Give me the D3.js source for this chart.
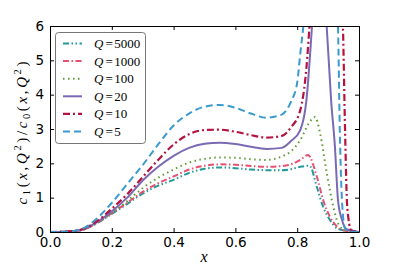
<!DOCTYPE html>
<html lang="en">
  <head>
    <meta charset="utf-8">
    <title>c1/c0 ratio</title>
    <script src="https://d3js.org/d3.v7.min.js"></script>
    <style>
      body { margin: 0; background: #fff; }
    </style>
  </head>
  <body>
    <svg id="chart" width="399" height="266"></svg>
    <script type="text/javascript">
      // values
      var q5000X = [0, 0.05, 0.1, 0.15, 0.2, 0.25, 0.3, 0.35, 0.4, 0.45, 0.5, 0.55, 0.6, 0.65, 0.7, 0.75, 0.78, 0.81, 0.84, 0.864, 0.884, 0.906, 0.93, 0.96, 1.0];
      var q5000Y = [0, 0.01, 0.05, 0.25, 0.53, 0.82, 1.12, 1.35, 1.52, 1.72, 1.84, 1.88, 1.86, 1.82, 1.8, 1.8, 1.83, 1.9, 1.93, 1.3, 0.73, 0.35, 0.1, 0.03, 0];

      var q1000X = [0, 0.05, 0.1, 0.15, 0.2, 0.25, 0.3, 0.35, 0.4, 0.45, 0.5, 0.55, 0.6, 0.65, 0.7, 0.75, 0.78, 0.81, 0.835, 0.864, 0.884, 0.906, 0.93, 0.96, 1.0];
      var q1000Y = [0, 0.01, 0.05, 0.25, 0.55, 0.85, 1.17, 1.42, 1.62, 1.82, 1.93, 1.97, 1.96, 1.92, 1.9, 1.92, 1.97, 2.1, 2.24, 1.6, 0.93, 0.44, 0.15, 0.03, 0];

      var q100X = [0, 0.05, 0.1, 0.15, 0.2, 0.25, 0.3, 0.35, 0.4, 0.45, 0.5, 0.55, 0.6, 0.65, 0.7, 0.75, 0.78, 0.81, 0.84, 0.858, 0.874, 0.896, 0.917, 0.935, 0.955, 1.0];
      var q100Y = [0, 0.01, 0.05, 0.25, 0.55, 0.9, 1.28, 1.58, 1.82, 2.02, 2.13, 2.17, 2.16, 2.12, 2.1, 2.2, 2.35, 2.68, 3.2, 3.35, 2.88, 1.7, 0.73, 0.2, 0.05, 0];

      var q20X = [0, 0.05, 0.1, 0.15, 0.2, 0.25, 0.3, 0.35, 0.4, 0.45, 0.5, 0.55, 0.6, 0.65, 0.7, 0.75, 0.78, 0.81, 0.83, 0.848, 0.87, 0.88, 0.896, 0.91, 0.922, 0.932, 0.945, 0.96, 1.0];
      var q20Y = [0, 0.01, 0.06, 0.27, 0.6, 1.0, 1.5, 1.9, 2.22, 2.45, 2.57, 2.6, 2.56, 2.48, 2.42, 2.45, 2.65, 2.97, 3.85, 6, 9, 9, 5.9, 3.8, 2.5, 0.93, 0.35, 0.08, 0];

      var q10X = [0, 0.05, 0.1, 0.15, 0.2, 0.25, 0.3, 0.35, 0.4, 0.45, 0.5, 0.55, 0.6, 0.65, 0.7, 0.75, 0.78, 0.81, 0.83, 0.84, 0.87, 0.9, 0.93, 0.948, 0.955, 0.962, 0.975, 1.0];
      var q10Y = [0, 0.01, 0.07, 0.3, 0.68, 1.1, 1.6, 2.1, 2.55, 2.85, 2.97, 2.98, 2.92, 2.82, 2.75, 2.8, 3.05, 3.55, 4.8, 6, 9, 10, 9, 6, 2.9, 0.73, 0.05, 0];

      var q5X = [0, 0.05, 0.1, 0.15, 0.2, 0.25, 0.3, 0.35, 0.4, 0.45, 0.5, 0.55, 0.6, 0.65, 0.7, 0.75, 0.78, 0.8, 0.81, 0.82, 0.84, 0.88, 0.92, 0.932, 0.938, 0.945, 0.955, 0.97, 1.0];
      var q5Y = [0, 0.01, 0.08, 0.38, 0.85, 1.4, 1.95, 2.55, 3.1, 3.45, 3.65, 3.7, 3.62, 3.45, 3.33, 3.42, 3.8, 4.35, 5.2, 6, 8, 10, 8, 6, 2.9, 0.9, 0.1, 0.02, 0];

      var seriesNames = ["5000", "1000", "100", "20", "10", "5"];
      var xTicks = [0, 0.2, 0.4, 0.6, 0.8, 1.0];
      var yTicks = [0, 1, 2, 3, 4, 5, 6];

      var series = [
        {q: "5000", xs: q5000X, ys: q5000Y, color: "#23999a", dash: "6,2.5,1.5,2.5,1.5,2.5", w: 2},
        {q: "1000", xs: q1000X, ys: q1000Y, color: "#e5506f", dash: "6,2.5,1.5,2.5", w: 2},
        {q: "100", xs: q100X, ys: q100Y, color: "#5f9a35", dash: "1.5,3.5", w: 2},
        {q: "20", xs: q20X, ys: q20Y, color: "#7a6ab3", dash: null, w: 2},
        {q: "10", xs: q10X, ys: q10Y, color: "#b5123f", dash: "7,3,2,3", w: 2.2},
        {q: "5", xs: q5X, ys: q5Y, color: "#3a9ad0", dash: "7,4", w: 2}
      ];

      var svg = d3.select("svg#chart");
      var mLeft = 50, mRight = 359, mTop = 26, mBottom = 232;

      var xScale = d3.scaleLinear().domain([0, 1]).range([mLeft, mRight]);
      var yScale = d3.scaleLinear().domain([0, 6]).range([mBottom, mTop]);

      svg.append("defs").append("clipPath").attr("id", "plotclip")
        .append("rect").attr("x", mLeft).attr("y", mTop)
        .attr("width", mRight - mLeft).attr("height", mBottom - mTop);

      var line = d3.line()
        .x(d => xScale(d[0]))
        .y(d => yScale(d[1]))
        .curve(d3.curveMonotoneX);

      var plot = svg.append("g").attr("clip-path", "url(#plotclip)");
      series.forEach(function (s) {
        var pts = s.xs.map((x, i) => [x, s.ys[i]]);
        plot.append("path").datum(pts)
          .attr("d", line)
          .attr("fill", "none")
          .attr("stroke", s.color)
          .attr("stroke-width", s.w)
          .attr("stroke-dasharray", s.dash);
      });

      // axes, ticks inward on all four sides
      var tickFont = "13.5px 'DejaVu Sans'";
      var xb = svg.append("g").attr("transform", "translate(0," + mBottom + ")")
        .call(d3.axisBottom(xScale).tickValues(xTicks).tickFormat(d3.format(".1f")).tickSizeInner(-4).tickSizeOuter(0).tickPadding(7));
      var xt = svg.append("g").attr("transform", "translate(0," + mTop + ")")
        .call(d3.axisTop(xScale).tickValues(xTicks).tickFormat("").tickSizeInner(-4).tickSizeOuter(0));
      var yl = svg.append("g").attr("transform", "translate(" + mLeft + ",0)")
        .call(d3.axisLeft(yScale).tickValues(yTicks).tickFormat(d3.format("d")).tickSizeInner(-4).tickSizeOuter(0).tickPadding(6));
      var yr = svg.append("g").attr("transform", "translate(" + mRight + ",0)")
        .call(d3.axisRight(yScale).tickValues(yTicks).tickFormat("").tickSizeInner(-4).tickSizeOuter(0));
      [xb, xt, yl, yr].forEach(function (g) {
        g.selectAll("text").style("font", tickFont).attr("fill", "#000");
        g.selectAll("line").attr("stroke", "#000");
        g.select(".domain").attr("stroke", "#000");
      });
      xb.selectAll("text").attr("y", 5).attr("dy", "0.71em");
      yl.selectAll("text").attr("x", -6);

      // axis labels
      svg.append("text")
        .attr("x", 204).attr("y", 262)
        .attr("text-anchor", "middle")
        .style("font", "italic 16px 'Liberation Serif'")
        .text("x");

      var yLab = svg.append("text")
        .attr("transform", "translate(27,133) rotate(-90)")
        .attr("text-anchor", "middle")
        .attr("textLength", 143)
        .attr("lengthAdjust", "spacing")
        .style("font", "15px 'Liberation Serif'");
      var parts = [
        ["c", "italic", 0], ["1", "normal", -1], ["(", "normal", 0], ["x", "italic", 0], [",", "normal", 0],
        ["Q", "italic", 0], ["2", "normal", 1], [")/", "normal", 0],
        ["c", "italic", 0], ["0", "normal", -1], ["(", "normal", 0], ["x", "italic", 0], [",", "normal", 0],
        ["Q", "italic", 0], ["2", "normal", 1], [")", "normal", 0]
      ];
      var shift = 0;
      parts.forEach(function (p) {
        var t = yLab.append("tspan").style("font-style", p[1]).text(p[0]);
        var target = p[2] === -1 ? 3 : (p[2] === 1 ? -6 : 0);
        if (target !== shift) { t.attr("dy", target - shift); shift = target; }
        if (p[2] !== 0) t.style("font-size", "10.5px");
      });

      // legend
      var legend = svg.append("g");
      legend.append("rect")
        .attr("x", 55.5).attr("y", 32.5).attr("width", 90).attr("height", 111)
        .attr("rx", 3).attr("fill", "#fff").attr("stroke", "#777").attr("stroke-width", 1);
      series.forEach(function (s, i) {
        var yy = 43.5 + i * 17.6;
        legend.append("line")
          .attr("x1", 63).attr("x2", 82).attr("y1", yy).attr("y2", yy)
          .attr("stroke", s.color).attr("stroke-width", s.w)
          .attr("stroke-dasharray", s.dash);
        var t = legend.append("text").attr("x", 94).attr("y", yy + 4.5)
          .style("font", "13px 'Liberation Serif'");
        t.append("tspan").style("font-style", "italic").text("Q");
        t.append("tspan").attr("dx", 2).text("=");
        t.append("tspan").attr("dx", 1.5).text(seriesNames[i]);
      });
    </script>
  </body>
</html>
